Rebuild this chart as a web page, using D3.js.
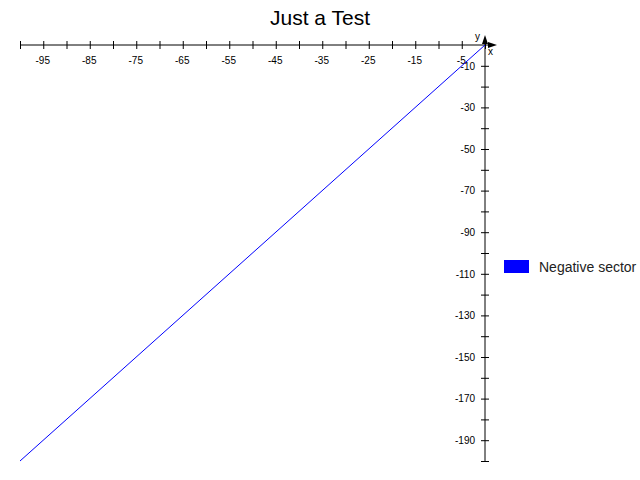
<!DOCTYPE html>
<html>
<head>
<meta charset="utf-8">
<script src="https://cdn.jsdelivr.net/npm/d3@7"></script>
<style>
  body { margin: 0; background: #fff; }
  svg { font-family: "Liberation Sans", Arial, sans-serif; }
</style>
</head>
<body>
<div id="chart"></div>
<script>
// data
const seriesName = "Negative sector";
const xs = [-100, 0];
const ys = [-200, 0];
const xTicks = d3.range(-100, 1, 5);
const xLabels = [-95, -85, -75, -65, -55, -45, -35, -25, -15, -5];
const yTicks = d3.range(-200, 1, 10);
const yLabels = [-10, -30, -50, -70, -90, -110, -130, -150, -170, -190];

const width = 640, height = 480;
const svg = d3.select("#chart").append("svg")
  .attr("width", width).attr("height", height);

const x = d3.scaleLinear().domain([-100, 0]).range([20, 485]);
const y = d3.scaleLinear().domain([-200, 0]).range([461, 45]);

svg.append("text")
  .attr("x", 320).attr("y", 25)
  .attr("text-anchor", "middle")
  .style("font-size", "21px")
  .text("Just a Test");

// x axis along y = 0
const xAxis = svg.append("g")
  .attr("transform", `translate(0,${y(0)})`)
  .call(d3.axisBottom(x).tickValues(xTicks).tickSize(4).tickPadding(8)
    .tickFormat(d => xLabels.includes(d) ? d : ""));
xAxis.select(".domain").attr("d", `M${x(-100)},0H${x(0) + 6}`);
xAxis.selectAll(".tick line").attr("y1", -4);
xAxis.selectAll(".tick text").style("font-size", "10px").attr("dx", "-1");

// y axis along x = 0
const yAxis = svg.append("g")
  .attr("transform", `translate(${x(0)},0)`)
  .call(d3.axisLeft(y).tickValues(yTicks.filter(d => d !== 0)).tickSize(4).tickPadding(6)
    .tickFormat(d => yLabels.includes(d) ? d : ""));
yAxis.select(".domain").attr("d", `M0,${y(-200)}V${y(0) - 6}`);
yAxis.selectAll(".tick line").attr("x1", 4);
yAxis.selectAll(".tick text").style("font-size", "10px");

// arrows
const ox = x(0), oy = y(0);
svg.append("path")
  .attr("d", `M${ox + 12},${oy}L${ox + 3},${oy - 3}L${ox + 3},${oy + 3}Z`)
  .attr("fill", "#000");
svg.append("path")
  .attr("d", `M${ox},${oy - 10}L${ox - 3},${oy - 1}L${ox + 3},${oy - 1}Z`)
  .attr("fill", "#000");
svg.append("text").attr("x", ox + 3).attr("y", oy + 10)
  .style("font-size", "10px").text("x");
svg.append("text").attr("x", ox - 10).attr("y", oy - 5)
  .style("font-size", "10px").text("y");

// line
const line = d3.line().x(d => x(d[0])).y(d => y(d[1]));
svg.append("path")
  .datum(d3.zip(xs, ys))
  .attr("d", line)
  .attr("fill", "none")
  .attr("stroke", "#0000ff")
  .attr("stroke-width", 1);

// legend
const legend = svg.append("g").attr("transform", "translate(504,260)");
legend.append("rect").attr("width", 25).attr("height", 13).attr("fill", "#0000ff");
legend.append("text").attr("x", 35).attr("y", 12)
  .style("font-size", "14px").attr("fill", "#222").text(seriesName);
</script>
</body>
</html>
